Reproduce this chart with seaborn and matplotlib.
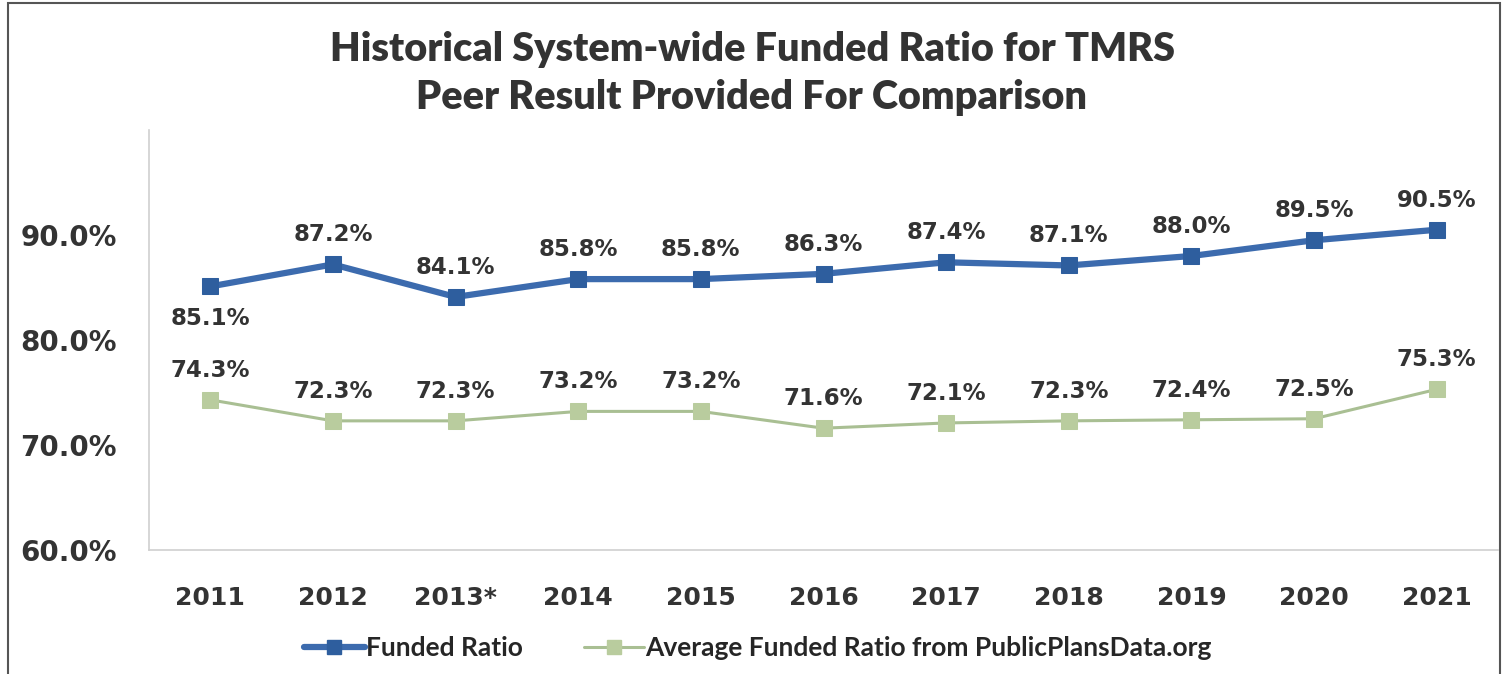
import matplotlib
matplotlib.use("Agg")
import matplotlib.pyplot as plt
import seaborn as sns
import pandas as pd
from matplotlib.lines import Line2D

years = ["2011", "2012", "2013*", "2014", "2015", "2016", "2017", "2018", "2019", "2020", "2021"]
funded = [85.1, 87.2, 84.1, 85.8, 85.8, 86.3, 87.4, 87.1, 88.0, 89.5, 90.5]
peer = [74.3, 72.3, 72.3, 73.2, 73.2, 71.6, 72.1, 72.3, 72.4, 72.5, 75.3]
series_names = ["Funded Ratio", "Average Funded Ratio from PublicPlansData.org"]
yticks = [60, 70, 80, 90]
title_lines = ["Historical System-wide Funded Ratio for TMRS", "Peer Result Provided For Comparison"]

sns.set_theme(style="white")
plt.rcParams['font.family'] = ['DejaVu Sans']

blue_line = "#3C6BAE"
blue_mk = "#2E5E9E"
green_line = "#A9BF93"
green_mk = "#B9CC9E"
text_col = "#333333"

df = pd.DataFrame({"year": years * 2,
                   "value": funded + peer,
                   "series": [series_names[0]] * len(years) + [series_names[1]] * len(years)})

fig = plt.figure(figsize=(15.04, 6.74), dpi=100)
ax = fig.add_axes([149 / 1504, 1 - 550 / 674, (1498 - 149) / 1504, (550 - 130) / 674])

sns.lineplot(data=df[df.series == series_names[0]], x="year", y="value", ax=ax,
             color=blue_line, linewidth=4.5, marker="s", markersize=11,
             markerfacecolor=blue_mk, markeredgecolor=blue_mk, sort=False, legend=False)
sns.lineplot(data=df[df.series == series_names[1]], x="year", y="value", ax=ax,
             color=green_line, linewidth=2.2, marker="s", markersize=11,
             markerfacecolor=green_mk, markeredgecolor=green_mk, sort=False, legend=False)

ax.set_xlim(-0.5, len(years) - 0.5)
ax.set_ylim(60, 100)
ax.set_yticks(yticks)
ax.set_yticklabels([f"{v:.1f}%" for v in yticks], fontsize=20, fontweight="bold", color=text_col)
ax.set_xticks(range(len(years)))
ax.set_xticklabels(years, fontsize=18, fontweight="bold", color=text_col)
ax.tick_params(axis="y", pad=23, length=0)
ax.tick_params(axis="x", pad=26, length=0)
ax.set_xlabel("")
ax.set_ylabel("")
for s in ["top", "right"]:
    ax.spines[s].set_visible(False)
for s in ["left", "bottom"]:
    ax.spines[s].set_color("#D0D0D0")
    ax.spines[s].set_linewidth(1.2)

for i, v in enumerate(funded):
    if i == 0:
        ax.annotate(f"{v:.1f}%", (i, v), xytext=(0, -15), textcoords="offset points",
                    ha="center", va="top", fontsize=16.5, fontweight="bold", color=text_col)
    else:
        ax.annotate(f"{v:.1f}%", (i, v), xytext=(0, 13), textcoords="offset points",
                    ha="center", va="bottom", fontsize=16.5, fontweight="bold", color=text_col)
for i, v in enumerate(peer):
    ax.annotate(f"{v:.1f}%", (i, v), xytext=(0, 13), textcoords="offset points",
                ha="center", va="bottom", fontsize=16.5, fontweight="bold", color=text_col)

fig.text(0.5, 1 - 50 / 674, title_lines[0], ha="center", va="center",
         fontsize=28.5, fontweight="heavy", family="Lato", color=text_col)
fig.text(0.5, 1 - 98 / 674, title_lines[1], ha="center", va="center",
         fontsize=28.5, fontweight="heavy", family="Lato", color=text_col)

handles = [Line2D([0], [0], color=blue_line, lw=4.5, marker="s", markersize=10,
                  markerfacecolor=blue_mk, markeredgecolor=blue_mk),
           Line2D([0], [0], color=green_line, lw=2.2, marker="s", markersize=10,
                  markerfacecolor=green_mk, markeredgecolor=green_mk)]
fig.legend(handles, series_names, loc="center", bbox_to_anchor=(758 / 1504, 1 - 648 / 674),
           ncol=2, frameon=False, handlelength=2.3, handletextpad=0.05, columnspacing=2.3,
           prop={"family": "Lato", "weight": "bold", "size": 19})

# outer frame
frame = plt.Rectangle((8 / 1504, -0.02), (1500 - 8) / 1504, 1 - 3 / 674 + 0.02,
                      transform=fig.transFigure, fill=False, edgecolor="#555555", linewidth=1.5)
fig.patches.append(frame)

fig.savefig("out.png", dpi=100)
